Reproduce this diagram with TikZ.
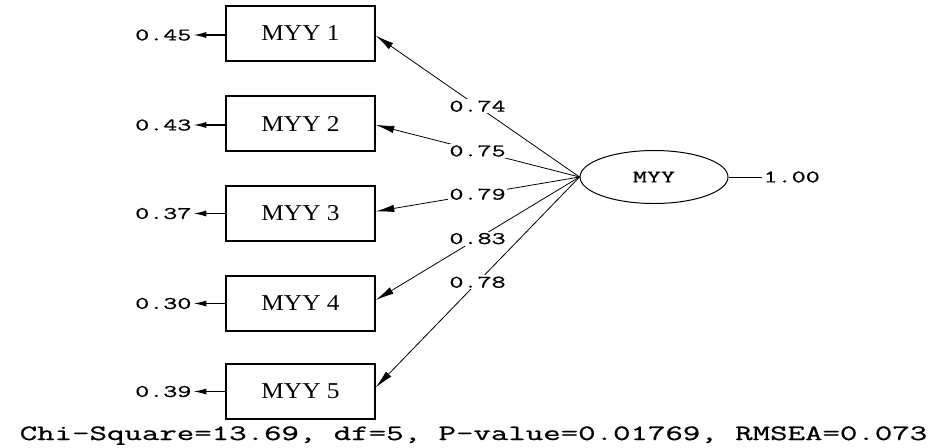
\documentclass[tikz,border=0pt]{standalone}
\usepackage{fontspec}
\setmainfont{Liberation Serif}[FakeStretch=1.12]
\newfontfamily\lisfont[FakeStretch=1.55, FakeBold=0.9]{Latin Modern Mono}
\usetikzlibrary{arrows.meta,shapes.geometric}

\tikzset{
  obsbox/.style={draw, line width=0.9pt, minimum width=111.75pt, minimum height=41.25pt, font=\fontsize{17}{17}\selectfont},
  latent/.style={draw, ellipse, line width=0.75pt, minimum width=111pt, minimum height=39.75pt, font=\lisfont\fontsize{13.2}{13.2}\selectfont},
  coef/.style={font=\lisfont\fontsize{13.2}{13.2}\selectfont, inner sep=1pt},
  wlabel/.style={coef, fill=white, pos=0.5},
  loading/.style={-{Latex[length=14pt,width=5.5pt]}, line width=0.6pt},
  errarrow/.style={{Latex[length=10pt,width=4.5pt]}-, line width=1.2pt}
}

\begin{document}
\begin{tikzpicture}[x=0.75pt, y=-0.75pt]
\useasboundingbox (0,0) rectangle (941,447);

\node[obsbox] (m1) at (300.5, 33.5) {MYY 1};
\node[obsbox] (m2) at (300.5, 123.5) {MYY 2};
\node[obsbox] (m3) at (300.5, 213.5) {MYY 3};
\node[obsbox] (m4) at (300.5, 303.5) {MYY 4};
\node[obsbox] (m5) at (300.5, 391.5) {MYY 5};

\node[latent] (myy) at (654, 177) {MYY};

\node[coef, anchor=east] (e1) at (193, 35) {0.45};
\node[coef, anchor=east] (e2) at (193, 125) {0.43};
\node[coef, anchor=east] (e3) at (193, 213.5) {0.37};
\node[coef, anchor=east] (e4) at (193, 303.5) {0.30};
\node[coef, anchor=east] (e5) at (193, 391.5) {0.39};
\node[coef, anchor=west] (v1) at (762, 177) {1.00};

\draw[errarrow] (e1.east) -- (m1.west |- e1.east);
\draw[errarrow] (e2.east) -- (m2.west |- e2.east);
\draw[errarrow] (e3.east) -- (m3.west |- e3.east);
\draw[errarrow] (e4.east) -- (m4.west |- e4.east);
\draw[errarrow] (e5.east) -- (m5.west |- e5.east);
\draw[line width=0.6pt] (myy.east) -- (v1.west);

\draw[loading] (myy.west) -- node[wlabel] {0.74} ([yshift=-1.5pt]m1.east);
\draw[loading] (myy.west) -- node[wlabel] {0.75} ([yshift=-1pt]m2.east);
\draw[loading] (myy.west) -- node[wlabel] {0.79} ([yshift=1.5pt]m3.east);
\draw[loading] (myy.west) -- node[wlabel] {0.83} ([yshift=2.5pt]m4.east);
\draw[loading] (myy.west) -- node[wlabel] {0.78} ([yshift=3pt]m5.east);

\node[font=\lisfont\fontsize{16.4}{16.4}\selectfont, anchor=base, inner sep=0pt] (fit) at (473.5, 440) {Chi-Square=13.69, df=5, P-value=0.01769, RMSEA=0.073};
\end{tikzpicture}
\end{document}
